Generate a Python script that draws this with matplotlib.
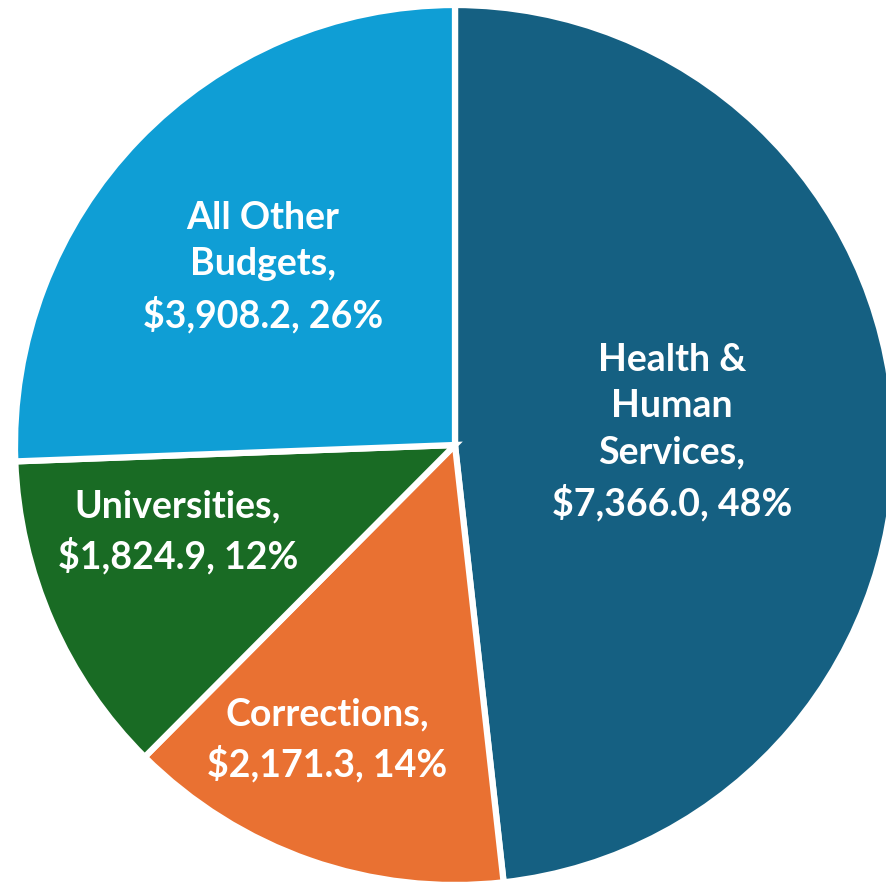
import matplotlib.pyplot as plt
import numpy as np

categories = ["Health &\nHuman\nServices", "Corrections", "Universities", "All Other\nBudgets"]
values = [7366.0, 2171.3, 1824.9, 3908.2]
colors = ["#156082", "#E97132", "#196B24", "#0F9ED5"]

# label centres, in pixels from the top left
label_xy = [(672, 432), (327, 740), (178, 532), (263, 267)]

W = H = 887
fig = plt.figure(figsize=(W / 100, H / 100), dpi=100)
ax = fig.add_axes([0, 0, 1, 1])

cx, cy, r = 455, H - 446, 440
ax.pie(values, colors=colors, startangle=90, counterclock=False,
       center=(cx, cy), radius=r, frame=True,
       wedgeprops=dict(edgecolor="white", linewidth=4.5))
ax.set_xlim(0, W)
ax.set_ylim(0, H)
ax.set_aspect("equal")
ax.axis("off")

total = sum(values)
for name, v, (x, y) in zip(categories, values, label_xy):
    txt = "%s,\n$%s, %d%%" % (name, format(v, ",.1f"), round(100 * v / total))
    ax.text(x, H - y, txt, ha="center", va="center", color="white",
            fontsize=27, fontweight="bold", family=["Lato", "DejaVu Sans"],
            linespacing=1.45)

fig.savefig("out.png", dpi=100, facecolor="white")
